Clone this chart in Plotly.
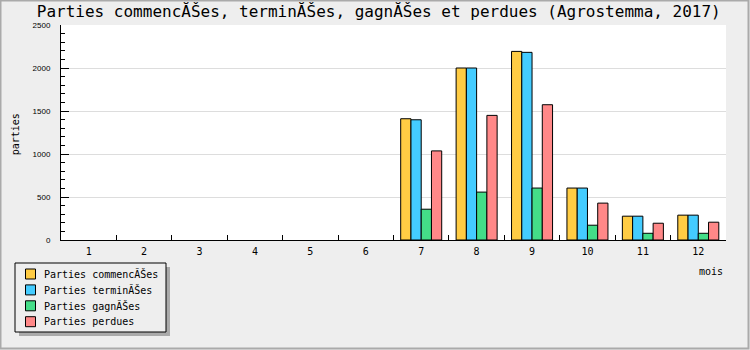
import plotly.graph_objects as go

months = ["1", "2", "3", "4", "5", "6", "7", "8", "9", "10", "11", "12"]
commencees = [0, 0, 0, 0, 0, 0, 1410, 2000, 2193, 604, 277, 289]
terminees = [0, 0, 0, 0, 0, 0, 1398, 2000, 2182, 604, 277, 289]
gagnees = [0, 0, 0, 0, 0, 0, 358, 557, 604, 172, 78, 78]
perdues = [0, 0, 0, 0, 0, 0, 1036, 1449, 1573, 429, 195, 207]

series_names = ["Parties commenc\u0102\u0160es", "Parties termin\u0102\u0160es",
                "Parties gagn\u0102\u0160es", "Parties perdues"]
colors = ["#FFCC44", "#44CCFF", "#44DD88", "#FF8888"]
title = "Parties commenc\u0102\u0160es, termin\u0102\u0160es, gagn\u0102\u0160es et perdues (Agrostemma, 2017)"

W, H = 750, 350
ML, MR, MT, MB = 61, 24, 25, 110
PW, PH = W - ML - MR, H - MT - MB

def px(x):
    return (x - ML) / PW

def py(y):
    return (H - MB - y) / PH

mono = "DejaVu Sans Mono"

fig = go.Figure()
for name, vals, c in zip(series_names, [commencees, terminees, gagnees, perdues], colors):
    fig.add_trace(go.Bar(x=months, y=[v if v > 0 else None for v in vals], name=name,
                         showlegend=False,
                         marker=dict(color=c, line=dict(color="black", width=1))))

# legend box (drawn in pixel-derived paper coordinates)
LX0, LX1, LY0, LY1 = 15, 166, 263, 332
shapes = [
    dict(type="rect", xref="paper", yref="paper",
         x0=px(LX0 + 4), x1=px(LX1 + 4), y0=py(LY1 + 4), y1=py(LY0 + 4),
         fillcolor="#AAAAAA", line=dict(width=0), layer="above"),
    dict(type="rect", xref="paper", yref="paper",
         x0=px(LX0), x1=px(LX1), y0=py(LY1), y1=py(LY0),
         fillcolor="#EEEEEE", line=dict(color="black", width=1), layer="above"),
    dict(type="rect", xref="paper", yref="paper",
         x0=px(0.5), x1=px(W - 1.5), y0=py(H - 1.5), y1=py(0.5),
         fillcolor="rgba(0,0,0,0)", line=dict(color="#AAAAAA", width=2)),
]
annotations = [
    dict(text="parties", x=px(15.3), y=py(134), xref="paper", yref="paper",
         showarrow=False, textangle=-90, xanchor="center", yanchor="middle",
         font=dict(family=mono, size=10, color="black")),
    dict(text="mois", x=px(725), y=py(271), xref="paper", yref="paper",
         showarrow=False, xanchor="right", yanchor="middle",
         font=dict(family=mono, size=10, color="black")),
]
ROW0, ROWSTEP = 274, 15.9
for i, (name, c) in enumerate(zip(series_names, colors)):
    cy = ROW0 + i * ROWSTEP
    shapes.append(dict(type="rect", xref="paper", yref="paper",
                       x0=px(25.5), x1=px(35.5), y0=py(cy + 5), y1=py(cy - 5),
                       fillcolor=c, line=dict(color="black", width=1), layer="above"))
    annotations.append(dict(text=name, x=px(42), y=py(cy), xref="paper", yref="paper",
                            showarrow=False, xanchor="left", yanchor="middle",
                            font=dict(family=mono, size=10, color="black")))

fig.update_layout(
    width=W, height=H,
    margin=dict(l=ML, r=MR, t=MT, b=MB, autoexpand=False),
    paper_bgcolor="#EEEEEE", plot_bgcolor="white",
    barmode="group", bargap=0.26, bargroupgap=0,
    title=dict(text=title, x=0.505, xref="container", xanchor="center",
               y=1 - 11 / H, yref="container", yanchor="middle",
               font=dict(family=mono, size=16, color="black")),
    showlegend=False,
    xaxis=dict(type="category", range=[-0.5, 11.5], showgrid=False,
               showline=True, linecolor="black", linewidth=1,
               ticks="inside", tickson="boundaries", ticklen=5, tickcolor="black",
               ticklabelstandoff=2,
               tickfont=dict(family=mono, size=10, color="black"), fixedrange=True),
    yaxis=dict(range=[0, 2500], dtick=500, showgrid=True, gridcolor="#DDDDDD", gridwidth=1,
               showline=True, linecolor="black", linewidth=1, zeroline=False,
               ticks="inside", ticklen=8, tickcolor="black", ticklabelstandoff=8,
               minor=dict(dtick=100, ticks="inside", ticklen=4, tickcolor="black", showgrid=False),
               tickfont=dict(family="Liberation Sans", size=8, color="black"), fixedrange=True),
    annotations=annotations,
    shapes=shapes,
)

fig.write_html("out.html")
